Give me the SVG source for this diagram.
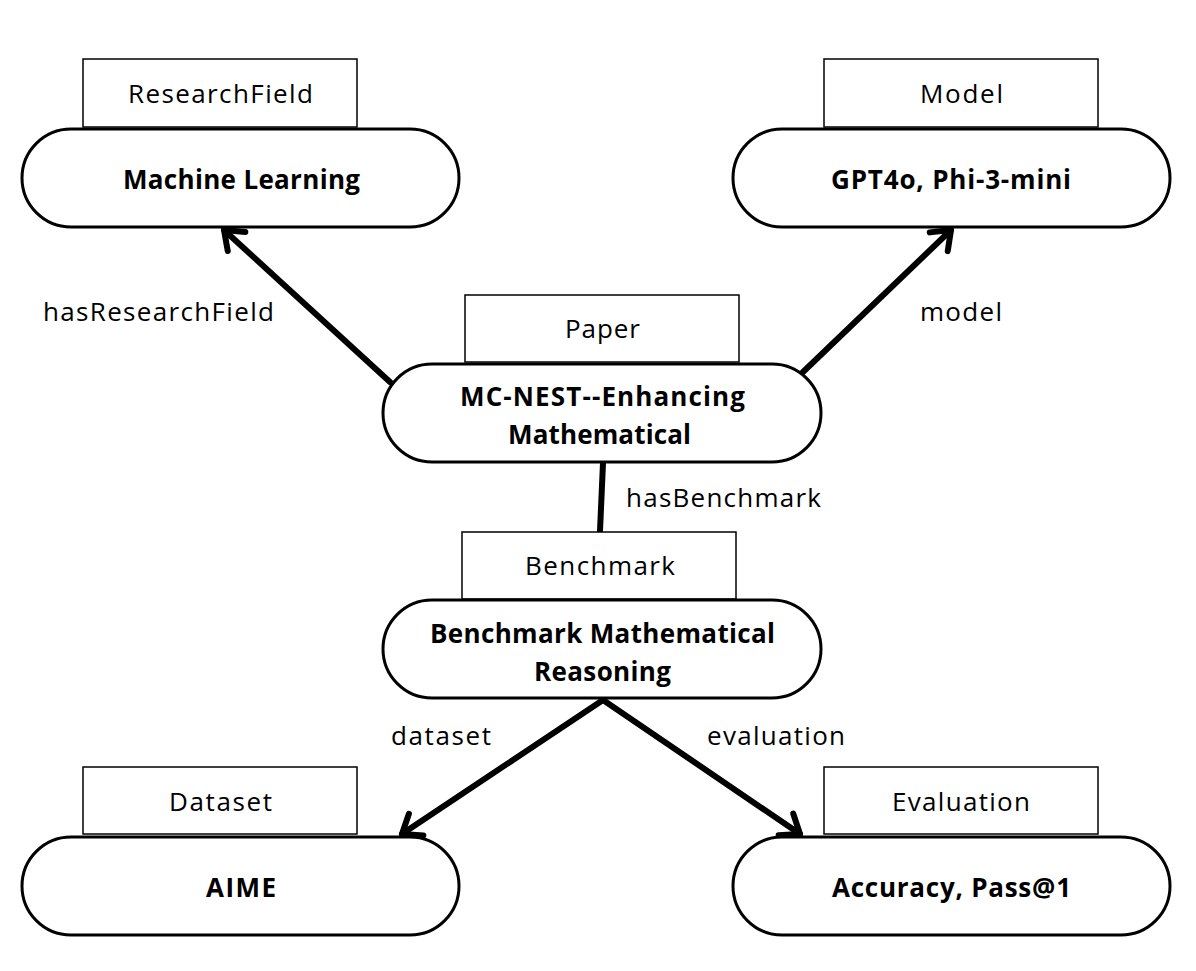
<svg xmlns="http://www.w3.org/2000/svg" width="1196" height="971" viewBox="0 0 1196 971">
<style>
.bg{fill:#fff}
.tag{fill:#fff;stroke:#000;stroke-width:1.5}
.pill{fill:#fff;stroke:#000;stroke-width:3}
.tt{font-family:"Open Sans","Noto Sans",sans-serif;font-size:26px;fill:#000;text-anchor:middle}
.nt{font-family:"Open Sans","Noto Sans",sans-serif;font-size:26px;font-weight:bold;fill:#000;text-anchor:middle}
.el{font-family:"Open Sans","Noto Sans",sans-serif;font-size:26px;fill:#000}
.edge{stroke:#000;stroke-width:6;fill:none;stroke-linecap:round}
</style>
<defs>
<marker id="arr" markerUnits="userSpaceOnUse" viewBox="-30 -20 40 40" markerWidth="40" markerHeight="40" refX="0" refY="0" orient="auto">
<path d="M-17 -13 L0 0 L-17 13" fill="none" stroke="#000" stroke-width="6" stroke-linecap="round" stroke-linejoin="round"/>
</marker>
</defs>
<rect class="bg" x="0" y="0" width="1196" height="971"/>
<g id="connectors">
<line class="edge" x1="390" y1="382" x2="224" y2="230" marker-end="url(#arr)"/>
<line class="edge" x1="803" y1="372" x2="951" y2="230" marker-end="url(#arr)"/>
<line class="edge" x1="603" y1="463" x2="600" y2="531"/>
<line class="edge" x1="603" y1="700" x2="402" y2="834" marker-end="url(#arr)"/>
<line class="edge" x1="603" y1="700" x2="800" y2="834" marker-end="url(#arr)"/>
<text class="el" x="43" y="321" textLength="231" lengthAdjust="spacing">hasResearchField</text>
<text class="el" x="920" y="321" textLength="82" lengthAdjust="spacing">model</text>
<text class="el" x="626" y="507" textLength="195" lengthAdjust="spacing">hasBenchmark</text>
<text class="el" x="391" y="745" textLength="100" lengthAdjust="spacing">dataset</text>
<text class="el" x="707" y="745" textLength="138" lengthAdjust="spacing">evaluation</text>
</g>
<g id="machine-learning">
<rect class="tag" x="83" y="59" width="274" height="68"/>
<text class="tt" x="220.5" y="103" textLength="185" lengthAdjust="spacing">ResearchField</text>
<rect class="pill" x="22" y="129" width="437" height="98" rx="49" ry="49"/>
<text class="nt" x="241.5" y="189" textLength="237" lengthAdjust="spacing">Machine Learning</text>
</g>
<g id="model">
<rect class="tag" x="824" y="59" width="274" height="68"/>
<text class="tt" x="961.5" y="103" textLength="83" lengthAdjust="spacing">Model</text>
<rect class="pill" x="733" y="129" width="437" height="98" rx="49" ry="49"/>
<text class="nt" x="951" y="189" textLength="240" lengthAdjust="spacing">GPT4o, Phi-3-mini</text>
</g>
<g id="paper">
<rect class="tag" x="465" y="295" width="274" height="67"/>
<text class="tt" x="602.5" y="338" textLength="75" lengthAdjust="spacing">Paper</text>
<rect class="pill" x="383" y="364" width="438" height="98" rx="49" ry="49"/>
<text class="nt" x="602.5" y="406" textLength="285" lengthAdjust="spacing">MC-NEST--Enhancing</text>
<text class="nt" x="599.5" y="444" textLength="183" lengthAdjust="spacing">Mathematical</text>
</g>
<g id="benchmark">
<rect class="tag" x="462" y="532" width="274" height="67"/>
<text class="tt" x="600" y="575" textLength="150" lengthAdjust="spacing">Benchmark</text>
<rect class="pill" x="383" y="600" width="438" height="98" rx="49" ry="49"/>
<text class="nt" x="602.5" y="643" textLength="345" lengthAdjust="spacing">Benchmark Mathematical</text>
<text class="nt" x="602.5" y="681" textLength="137" lengthAdjust="spacing">Reasoning</text>
</g>
<g id="aime">
<rect class="tag" x="83" y="767" width="274" height="67"/>
<text class="tt" x="220.5" y="811" textLength="103" lengthAdjust="spacing">Dataset</text>
<rect class="pill" x="22" y="837" width="437" height="98" rx="49" ry="49"/>
<text class="nt" x="241" y="897" textLength="70" lengthAdjust="spacing">AIME</text>
</g>
<g id="accuracy">
<rect class="tag" x="824" y="767" width="274" height="67"/>
<text class="tt" x="961" y="811" textLength="138" lengthAdjust="spacing">Evaluation</text>
<rect class="pill" x="733" y="837" width="437" height="98" rx="49" ry="49"/>
<text class="nt" x="951.5" y="897" textLength="239" lengthAdjust="spacing">Accuracy, Pass@1</text>
</g>
</svg>
